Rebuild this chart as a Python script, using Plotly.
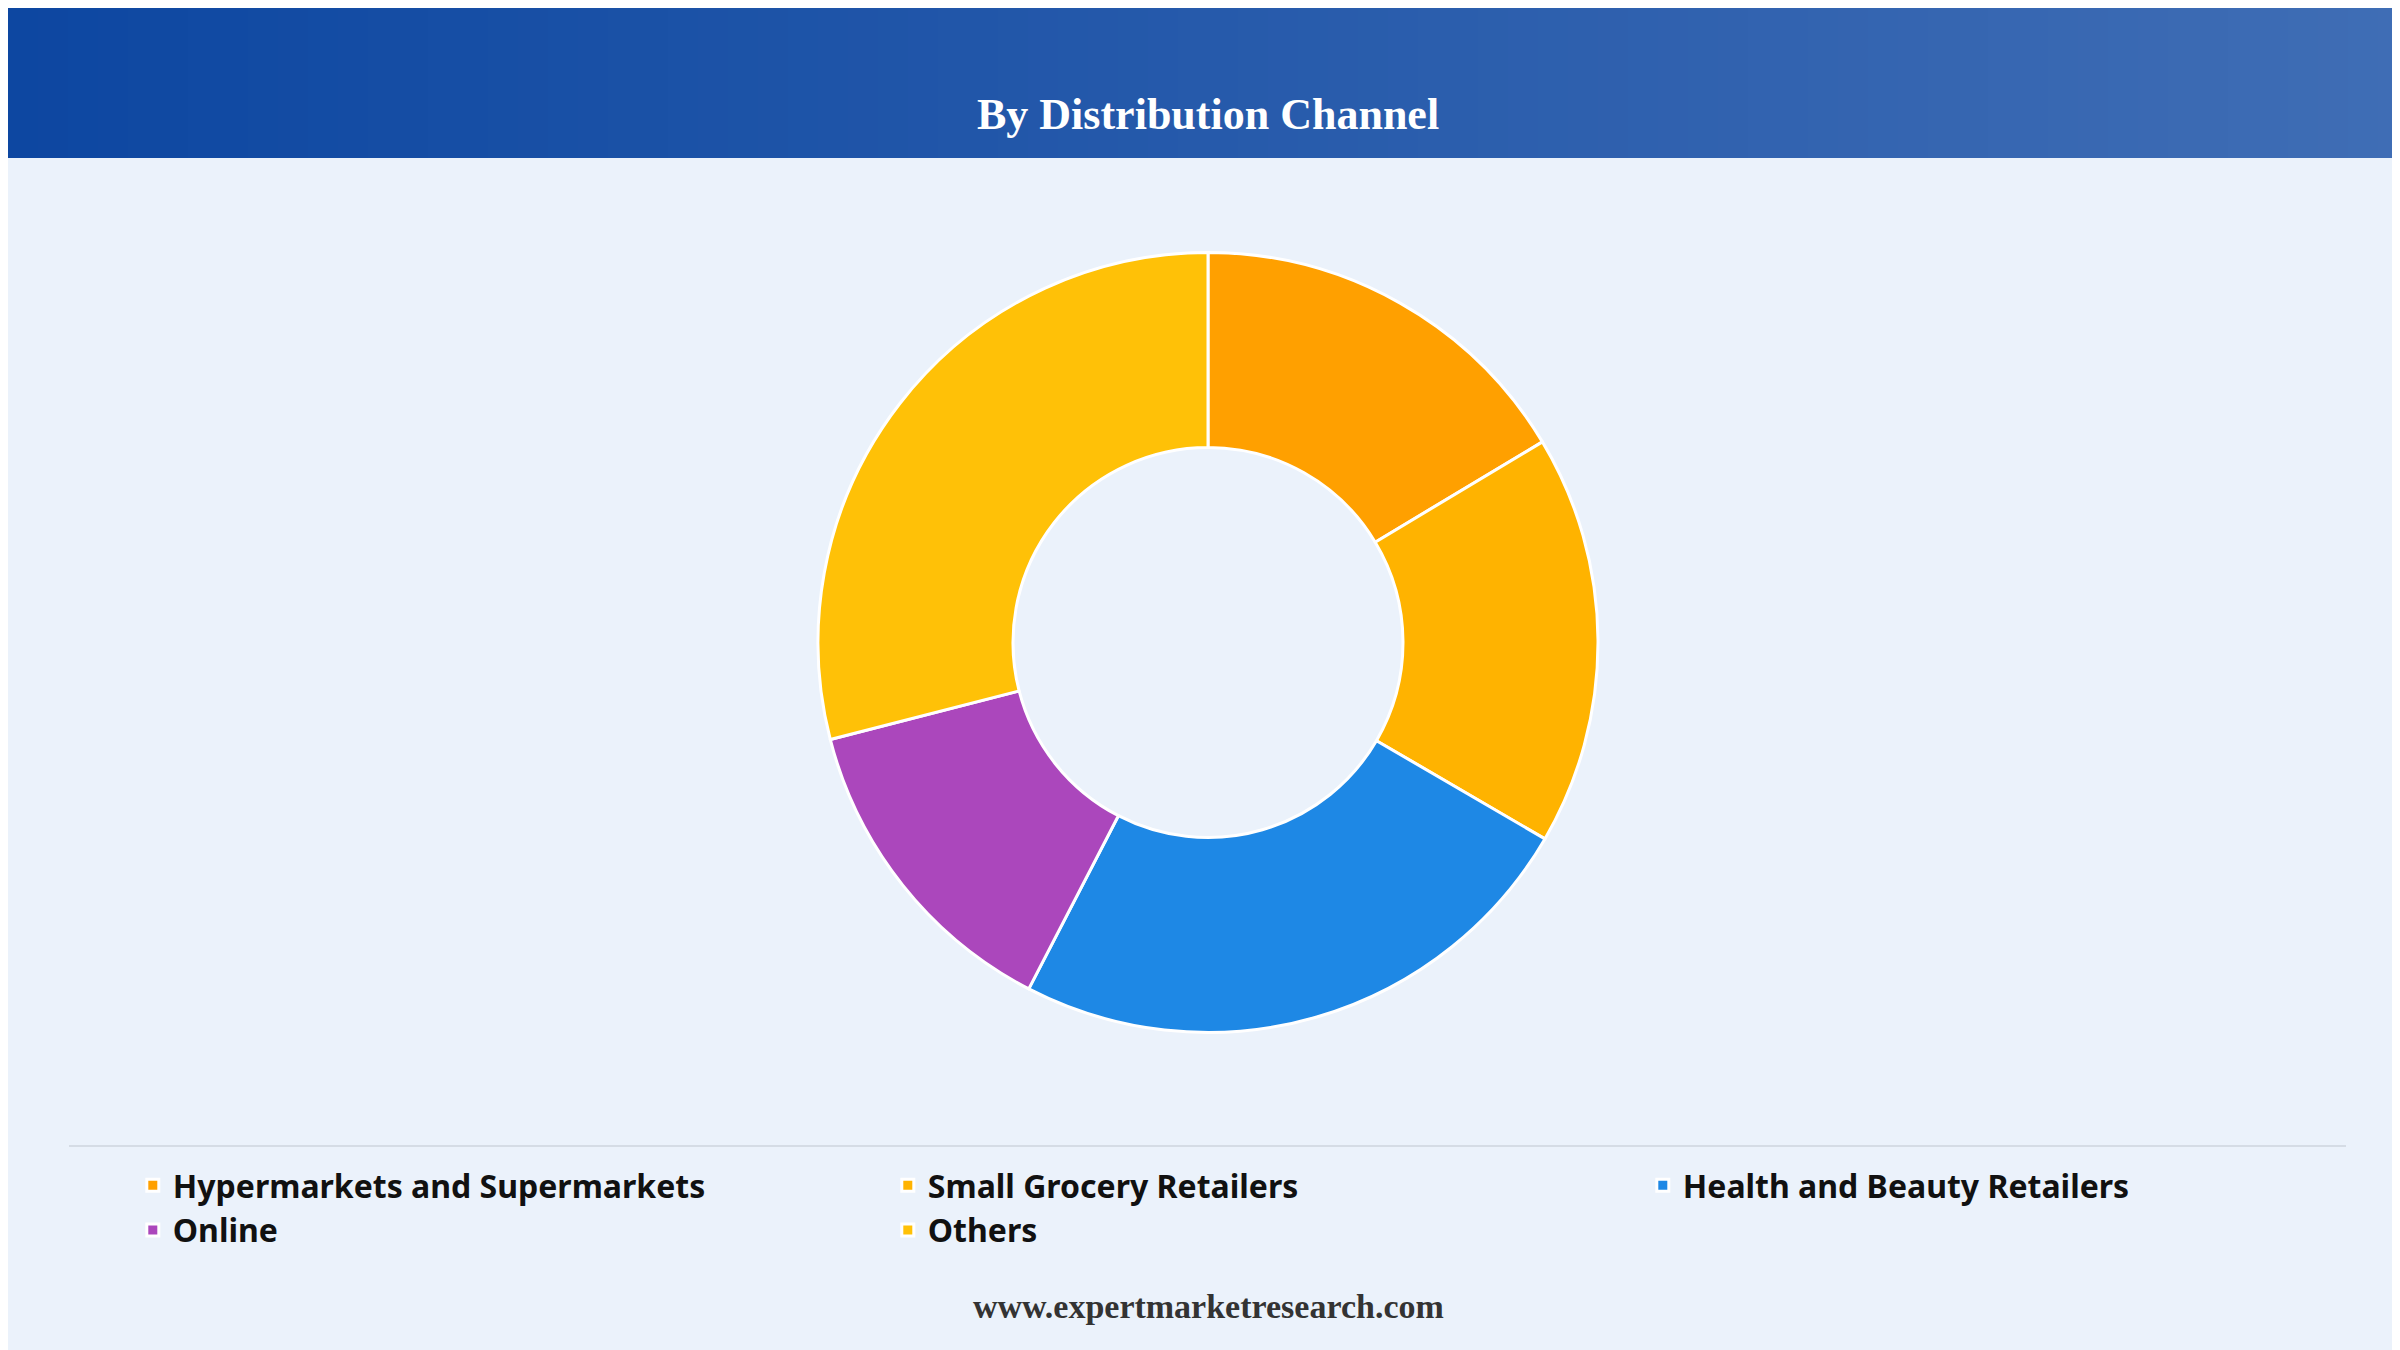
import plotly.graph_objects as go

channels = ["Hypermarkets and Supermarkets", "Small Grocery Retailers",
            "Health and Beauty Retailers", "Online", "Others"]
shares = [16.4, 17.0, 24.2, 13.4, 29.0]
colors = ["#FFA000", "#FFB300", "#1E88E5", "#AB47BC", "#FFC107"]

fig = go.Figure(go.Pie(
    labels=channels, values=shares, hole=0.5, sort=False, direction="clockwise",
    rotation=0, textinfo="none", hoverinfo="label+percent",
    marker=dict(colors=colors, line=dict(color="white", width=3)),
    domain=dict(x=[0.3375, 0.6625], y=[0.24, 0.82]),
))

# header gradient band
shapes = []
n = 80
c0, c1 = (13, 71, 161), (63, 109, 181)
for i in range(n):
    t = i / (n - 1)
    col = "rgb(%d,%d,%d)" % tuple(round(a + (b - a) * t) for a, b in zip(c0, c1))
    shapes.append(dict(type="rect", xref="paper", yref="paper", x0=i / n, x1=(i + 1) / n + 0.002,
                       y0=1 - 150 / 1350, y1=1, fillcolor=col, line_width=0, layer="below"))
shapes.append(dict(type="line", xref="paper", yref="paper", x0=61 / 2400, x1=2338 / 2400,
                   y0=1 - 1138 / 1350, y1=1 - 1138 / 1350, line=dict(color="#D5DCE5", width=2)))

fig.update_layout(
    width=2400, height=1350, margin=dict(l=0, r=0, t=0, b=0),
    paper_bgcolor="#EBF2FB", plot_bgcolor="#EBF2FB", shapes=shapes,
    showlegend=True,
    legend=dict(orientation="h", x=0.052, y=1 - 1150 / 1350, xanchor="left", yanchor="top",
                entrywidth=710, entrywidthmode="pixels", traceorder="normal",
                font=dict(family="Noto Sans", size=32, color="#111111", weight="bold"),
                bgcolor="rgba(0,0,0,0)"),
    annotations=[
        dict(text="<b>By Distribution Channel</b>", xref="paper", yref="paper", x=0.5,
             y=1 - 80 / 1350, showarrow=False,
             font=dict(family="Liberation Serif", size=44, color="white")),
        dict(text="<b>www.expertmarketresearch.com</b>", xref="paper", yref="paper", x=0.5,
             y=1 - 1319 / 1350, showarrow=False,
             font=dict(family="Liberation Serif", size=34, color="#333333")),
    ],
)

fig.write_html("out.html")
